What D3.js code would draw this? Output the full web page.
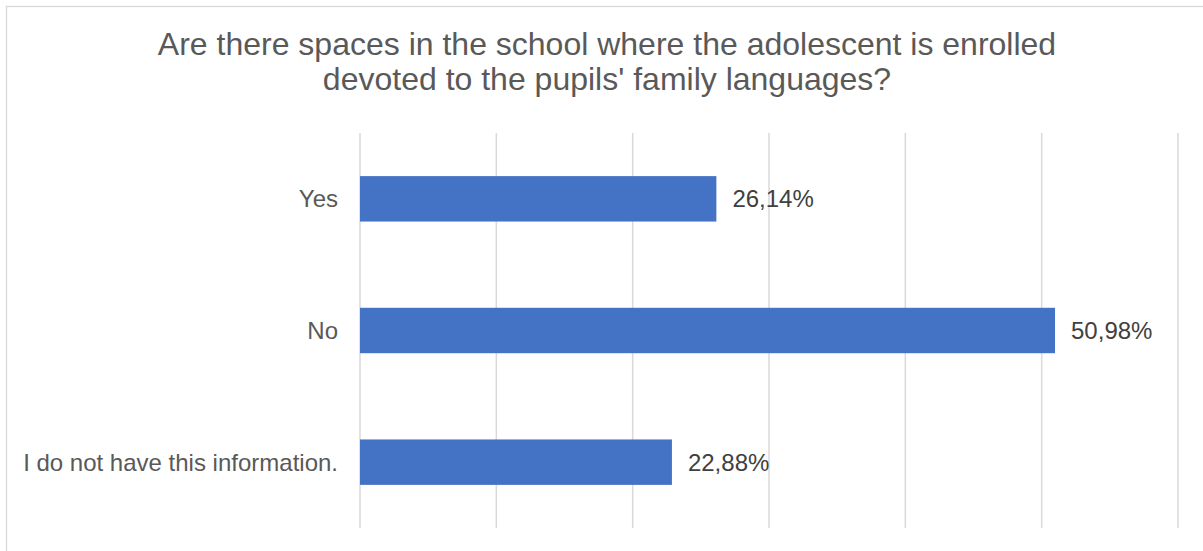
<!DOCTYPE html>
<html>
<head>
<meta charset="utf-8">
<script src="https://cdn.jsdelivr.net/npm/d3@7"></script>
<style>
  html, body { margin: 0; padding: 0; background: #fff; }
  svg { display: block; font-family: "Liberation Sans", Arial, sans-serif; }
</style>
</head>
<body>
<svg id="chart" width="1203" height="551"></svg>
<script>
// Survey answers and their shares (percent)
const categories = ["Yes", "No", "I do not have this information."];
const shares = [26.14, 50.98, 22.88];
const gridTicks = [0, 10, 20, 30, 40, 50, 60];
const titleLines = [
  "Are there spaces in the school where the adolescent is enrolled",
  "devoted to the pupils' family languages?"
];

const svg = d3.select("#chart");
const W = 1203, H = 551;

// Outer chart frame
svg.append("rect")
  .attr("x", 6.5).attr("y", 6.5)
  .attr("width", W + 10).attr("height", H + 10)
  .attr("fill", "#fff")
  .attr("stroke", "#d9d9d9").attr("stroke-width", 1.3);

const plot = { left: 360, right: 1178, top: 133, bottom: 528 };

const x = d3.scaleLinear().domain([0, 60]).range([plot.left, plot.right]);
const y = d3.scaleBand().domain(categories).range([plot.top, plot.bottom]).padding(0);
const barH = y.bandwidth() * 0.345;

// Vertical gridlines
svg.append("g").selectAll("line")
  .data(gridTicks)
  .join("line")
  .attr("x1", d => x(d)).attr("x2", d => x(d))
  .attr("y1", plot.top).attr("y2", plot.bottom)
  .attr("stroke", "#d9d9d9").attr("stroke-width", 1.5);

// Title
svg.append("text")
  .attr("x", 607).attr("y", 55)
  .attr("text-anchor", "middle")
  .attr("fill", "#595959")
  .style("font-size", "32px")
  .selectAll("tspan")
  .data(titleLines)
  .join("tspan")
  .attr("x", 607)
  .attr("dy", (d, i) => i === 0 ? 0 : 35)
  .text(d => d);

const rows = categories.map((c, i) => ({ cat: c, value: shares[i] }));

// Bars
svg.append("g").selectAll("rect")
  .data(rows)
  .join("rect")
  .attr("x", x(0))
  .attr("y", d => y(d.cat) + (y.bandwidth() - barH) / 2)
  .attr("width", d => x(d.value) - x(0))
  .attr("height", barH)
  .attr("fill", "#4472c4");

// Category labels
svg.append("g").selectAll("text")
  .data(rows)
  .join("text")
  .attr("x", 338)
  .attr("y", d => y(d.cat) + y.bandwidth() / 2)
  .attr("dy", "0.35em")
  .attr("text-anchor", "end")
  .attr("fill", "#595959")
  .style("font-size", "24px")
  .text(d => d.cat);

// Value labels
const fmt = v => v.toFixed(2).replace(".", ",") + "%";
svg.append("g").selectAll("text")
  .data(rows)
  .join("text")
  .attr("x", d => x(d.value) + 16)
  .attr("y", d => y(d.cat) + y.bandwidth() / 2)
  .attr("dy", "0.35em")
  .attr("fill", "#404040")
  .style("font-size", "24px")
  .text(d => fmt(d.value));
</script>
</body>
</html>
